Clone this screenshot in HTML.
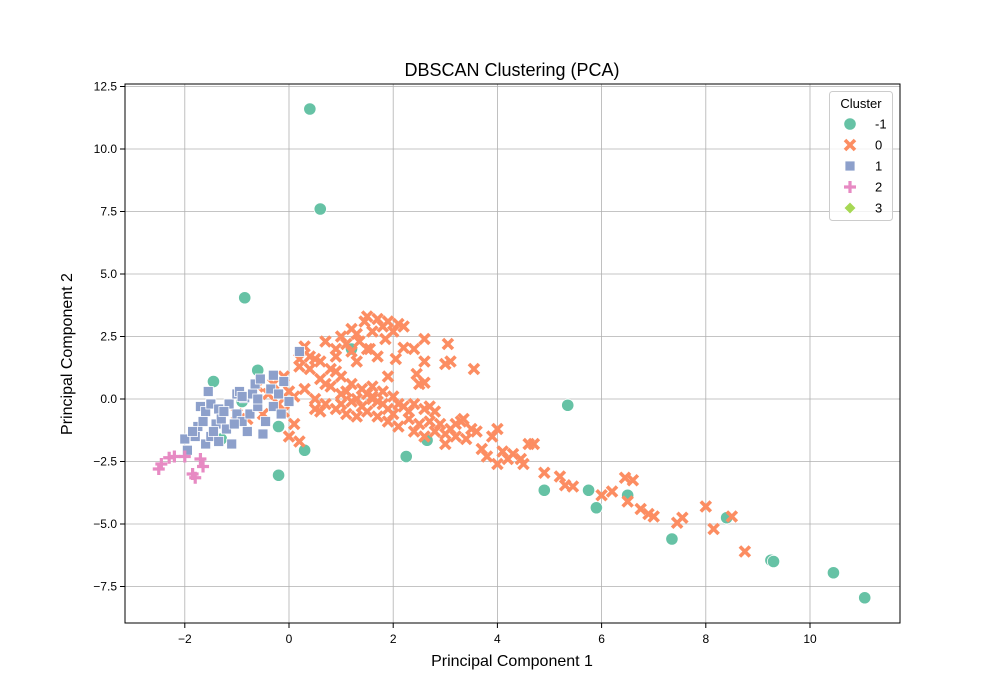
<!DOCTYPE html>
<html><head><meta charset="utf-8"><style>
body{margin:0;background:#fff;}
svg{display:block;font-family:"Liberation Sans","DejaVu Sans",sans-serif;}
</style></head><body>
<svg id="chart" width="1000" height="700">
<rect width="1000" height="700" fill="#fff"/>
<text x="512" y="76" font-size="18" text-anchor="middle">DBSCAN Clustering (PCA)</text>
<g id="grid"></g><g id="marks"></g><g id="ticks"></g>
<rect x="125" y="84" width="775" height="539" fill="none" stroke="#000" stroke-width="1"/>
<text x="512" y="666" font-size="16" text-anchor="middle">Principal Component 1</text>
<text transform="translate(72,354) rotate(-90)" font-size="16" text-anchor="middle">Principal Component 2</text>
<g id="legend">
<rect x="829.5" y="91.5" width="63" height="129" rx="3" fill="#fff" fill-opacity="0.8" stroke="#ccc"/>
<text x="861" y="108" font-size="13" text-anchor="middle">Cluster</text>
</g>
</svg>
<script>
const xTicks=[-2,0,2,4,6,8,10];
const yTicks=[-7.5,-5.0,-2.5,0.0,2.5,5.0,7.5,10.0,12.5];
const clusterLabels=["-1","0","1","2","3"];
const noise=[[0.4,11.6],[0.6,7.6],[-0.85,4.05],[-1.45,0.7],[-0.6,1.15],[-1.3,-1.6],[-0.2,-3.05],[0.3,-2.05],[2.25,-2.3],[2.65,-1.65],[1.2,2.0],[5.35,-0.25],[4.9,-3.65],[5.75,-3.65],[5.9,-4.35],[6.5,-3.85],[7.35,-5.6],[8.4,-4.75],[9.25,-6.45],[9.3,-6.5],[10.45,-6.95],[11.05,-7.95],[-0.2,-1.1],[-0.9,-0.1]];
const c0=[[4.6,-1.8],[4.7,-1.8],[4.9,-2.95],[5.2,-3.1],[5.3,-3.45],[5.45,-3.5],[6.0,-3.85],[6.2,-3.7],[6.45,-3.15],[6.6,-3.25],[6.5,-4.1],[6.75,-4.4],[6.9,-4.6],[7.0,-4.7],[7.45,-4.95],[7.55,-4.75],[8.0,-4.3],[8.15,-5.2],[8.5,-4.7],[8.75,-6.1],[3.5,-1.2],[3.6,-1.3],[3.7,-2.0],[3.8,-2.3],[3.9,-1.5],[4.0,-1.2],[4.1,-2.1],[4.2,-2.4],[4.3,-2.2],[4.45,-2.4],[4.5,-2.6],[4.0,-2.6],[3.3,-0.9],[3.2,-1.5],[3.0,-1.8],[3.1,-1.2],[2.9,-1.0],[2.8,-0.5],[2.7,-0.3],[2.5,-1.0],[2.3,-0.8],[2.2,-0.3],[2.0,-0.6],[1.8,-0.2],[1.6,0.1],[1.4,-0.3],[1.2,-0.1],[1.0,0.2],[0.8,0.5],[0.6,0.8],[0.4,1.2],[0.2,1.6],[0.3,2.1],[0.0,0.3],[-0.1,0.9],[-0.2,-0.2],[-0.1,-0.5],[0.1,-1.0],[0.0,-1.5],[0.2,-1.7],[-0.5,-0.6],[-0.6,0.5],[-0.4,0.2],[-0.8,-0.8],[-1.0,-0.6],[-0.3,0.6],[0.5,0.0],[0.5,-0.4],[0.7,-0.2],[0.9,-0.4],[1.1,-0.6],[1.3,-0.7],[1.5,-0.5],[1.7,-0.7],[1.9,-0.9],[2.1,-1.1],[2.4,-1.3],[2.6,-1.5],[2.8,-1.3],[3.0,-1.4],[3.4,-1.6],[3.35,-0.8],[2.6,-0.4],[2.4,-0.2],[2.0,0.1],[1.8,0.3],[1.6,0.5],[1.4,0.4],[1.2,0.6],[1.0,0.9],[0.8,1.2],[0.6,1.5],[0.4,1.7],[0.2,1.3],[0.9,1.7],[0.5,1.6],[0.7,2.3],[0.9,2.0],[1.0,2.5],[1.1,2.2],[1.2,2.8],[1.3,2.6],[1.35,2.3],[1.45,3.1],[1.5,3.3],[1.55,2.0],[1.6,2.7],[1.7,3.2],[1.8,2.9],[1.9,3.1],[2.0,2.7],[2.1,3.0],[2.2,2.9],[1.85,2.4],[2.2,2.05],[2.4,2.0],[2.45,1.0],[2.6,2.4],[2.6,1.5],[2.5,0.6],[2.6,0.65],[3.05,2.2],[3.1,1.5],[3.0,1.4],[3.55,1.2],[2.05,1.6],[1.9,0.9],[1.3,1.5],[1.7,1.7],[1.5,2.0],[0.9,1.1],[1.2,1.9],[1.6,0.0],[1.0,-0.2],[0.7,0.6],[0.3,0.4],[0.1,0.1],[1.1,0.3],[1.5,0.2],[1.9,-0.4],[2.3,-0.5],[2.7,-0.9],[3.2,-1.0],[0.6,-0.5],[1.3,0.0],[1.7,-0.1],[2.1,-0.2]];
const c1=[[-2.0,-1.6],[-1.95,-2.05],[-1.8,-1.5],[-1.75,-1.1],[-1.7,-0.3],[-1.6,-0.5],[-1.55,0.3],[-1.5,-0.2],[-1.6,-1.8],[-1.5,-1.5],[-1.4,-1.0],[-1.35,-0.4],[-1.3,-0.8],[-1.2,-1.2],[-1.15,-0.2],[-1.1,-1.8],[-1.0,-0.6],[-1.0,0.2],[-0.95,0.3],[-0.9,-0.9],[-0.85,0.05],[-0.8,-1.3],[-0.75,-0.6],[-0.7,0.2],[-0.65,0.6],[-0.6,-0.3],[-0.55,0.8],[-0.5,-1.4],[-0.45,-0.9],[-0.35,0.4],[-0.3,0.95],[-0.3,-0.3],[-0.2,0.2],[-0.1,0.7],[0.0,-0.1],[-1.85,-1.3],[-1.65,-0.9],[-1.45,-1.3],[-1.25,-0.5],[-0.15,-0.6],[0.2,1.9],[-0.6,0.0],[-1.05,-1.0],[-1.35,-1.7],[-0.9,0.1]];
const c2=[[-2.45,-2.6],[-2.3,-2.35],[-2.2,-2.3],[-1.8,-3.15],[-1.85,-3.0],[-1.65,-2.7],[-1.7,-2.4],[-2.5,-2.8],[-2.0,-2.3]];
const c3=[];
const NS="http://www.w3.org/2000/svg";
function X(v){return 289+v*52.1;}
function Y(v){return 399-v*25;}
function mk(tag,attrs,parent){const e=document.createElementNS(NS,tag);for(const k in attrs)e.setAttribute(k,attrs[k]);parent.appendChild(e);return e;}
const grid=document.getElementById('grid'),ticks=document.getElementById('ticks'),marks=document.getElementById('marks');
xTicks.forEach(t=>{const x=X(t);
 const g=mk('line',{x1:x,x2:x,y1:84,y2:623,stroke:'#b0b0b0','stroke-width':0.8},grid);
 
 
 mk('line',{x1:x,x2:x,y1:623,y2:628,stroke:'#000'},ticks);
 const l=mk('text',{x:x,y:643,'font-size':12,'text-anchor':'middle'},ticks);l.textContent=t<0?'\u2212'+(-t):t;
 
 
});
yTicks.forEach(t=>{const y=Y(t);
 const g=mk('line',{x1:125,x2:900,y1:y,y2:y,stroke:'#b0b0b0','stroke-width':0.8},grid);
 
 
 mk('line',{x1:120,x2:125,y1:y,y2:y,stroke:'#000'},ticks);
 const l=mk('text',{x:117,y:y+4,'font-size':12,'text-anchor':'end'},ticks);l.textContent=(t<0?'\u2212':'')+Math.abs(t).toFixed(1);
 
 
});
const colors=['#66c2a5','#fc8d62','#8da0cb','#e78ac3','#a6d854'];
function marker(kind,x,y,parent){
 let e;
 if(kind===0)e=mk('circle',{cx:x,cy:y,r:6.2,fill:colors[0],stroke:'#fff','stroke-width':0.8},parent);
 else if(kind===1)e=mk('path',{d:`M${x-5},${y-5}L${x+5},${y+5}M${x-5},${y+5}L${x+5},${y-5}`,stroke:colors[1],'stroke-width':3.6,fill:'none'},parent);
 else if(kind===2)e=mk('rect',{x:x-5,y:y-5,width:10,height:10,fill:colors[2],stroke:'#fff','stroke-width':0.8},parent);
 else if(kind===3)e=mk('path',{d:`M${x-6},${y}L${x+6},${y}M${x},${y-6}L${x},${y+6}`,stroke:colors[3],'stroke-width':3.2,fill:'none'},parent);
 else e=mk('path',{d:`M${x},${y-6}L${x+6},${y}L${x},${y+6}L${x-6},${y}Z`,fill:colors[4],stroke:'#fff','stroke-width':0.8},parent);
 return e;
}
const series=[noise,c0,c1,c2,c3];
series.forEach((s,k)=>s.forEach(p=>{const e=marker(k,X(p[0]),Y(p[1]),marks);
 
 
}));
const leg=document.getElementById('legend');
clusterLabels.forEach((lab,i)=>{const y=124+i*21;
 const e=marker(i,850,y,leg);
 
 
 const t=mk('text',{x:875,y:y+4.5,'font-size':13},leg);t.textContent=lab;
 
 
});
</script>
</body></html>
